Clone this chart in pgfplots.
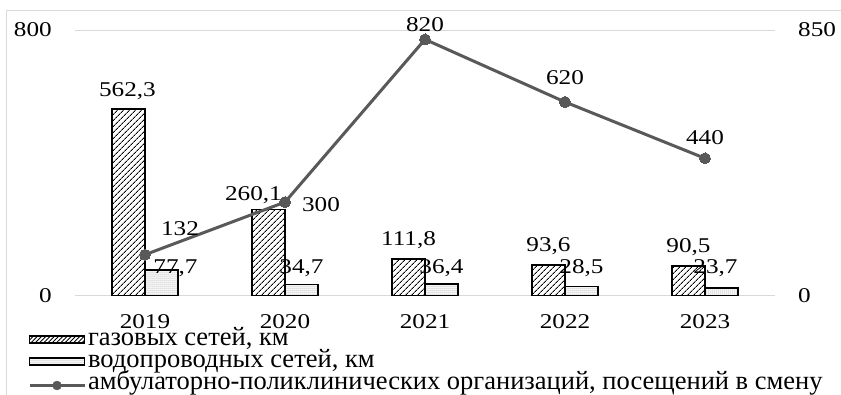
\documentclass[border=0pt]{standalone}
\usepackage{fontspec}
\setmainfont{Liberation Serif}[FakeStretch=1.2]
\newfontfamily\legfont{Liberation Serif}
\usepackage{pgfplots}
\pgfplotsset{compat=1.18}
\usepackage{pgfplotstable}
\usetikzlibrary{patterns.meta}
\definecolor{linegray}{HTML}{595959}
\definecolor{gridgray}{HTML}{D9D9D9}

\pgfplotstableread{
x gas water visits gdx gdy wy wdx vdx vdy
0 562.3 77.7 132 -1 18 84 14 35 26
1 260.1 34.7 300 -15 14 84 0 36 -3
2 111.8 36.4 820 0 19 84 0 0 15
3 93.6 28.5 620 0 19 84 0 0 24
4 90.5 23.7 440 0 19 84 -6 0 21
}\data

\pgfplotsset{/pgf/number format/assume math mode=true}

\begin{document}
\begin{tikzpicture}[font=\fontsize{21}{25}\selectfont]
\path[use as bounding box] (-75pt,-99pt) rectangle (766pt,296pt);
\draw[gridgray, line width=1pt] (-68.5pt,-99pt) -- (-68.5pt,285pt) -- (766pt,285pt);
\begin{axis}[
  scale only axis, width=700pt, height=266pt,
  xmin=-0.5, xmax=4.5, ymin=0, ymax=800,
  ybar, bar width=33pt,
  axis line style={draw=none}, tick style={draw=none},
  ytick={0,800}, ymajorgrids, grid style={gridgray, line width=1pt},
  xtick={0,1,2,3,4}, xticklabels={2019,2020,2021,2022,2023},
  xticklabel style={inner sep=0pt, yshift=-14pt},
  yticklabel style={inner sep=0pt, xshift=-23pt},
  legend style={at={(axis description cs:-0.0671,-0.1391)}, anchor=north west,
    draw=none, fill=none, inner sep=0pt, outer sep=0pt,
    font=\legfont\fontsize{26.5}{29}\selectfont,
    nodes={inner sep=0pt, text height=13pt, text depth=4pt},
    cells={anchor=west}, row sep=5pt, column sep=2pt},
]
% water bars
\addplot[forget plot, bar shift=16.5pt, draw=black, line width=1.5pt, fill=white,
  postaction={pattern={Dots[distance=2pt, radius=0.5pt]}, pattern color=gray}]
  table[x=x, y=water]{\data};
% water labels
\addplot[forget plot, bar shift=16.5pt, draw=none, fill=none,
  nodes near coords={\pgfmathprintnumber[fixed,fixed zerofill,precision=1,use comma]{\pgfplotspointmeta}},
  point meta=explicit,
  visualization depends on={\thisrow{wdx} \as \wdx},
  every node near coord/.append style={anchor=center, xshift=\wdx pt, text=black}]
  table[x=x, y=wy, meta=water]{\data};
% gas bars
\addplot[forget plot, bar shift=-16.5pt, draw=black, line width=1.5pt, fill=white,
  postaction={pattern={Lines[angle=45, distance=4pt, line width=1pt]}}]
  table[x=x, y=gas]{\data};
% gas labels
\addplot[forget plot, bar shift=-16.5pt, draw=none, fill=none,
  nodes near coords={\pgfmathprintnumber[fixed,fixed zerofill,precision=1,use comma]{\pgfplotspointmeta}},
  point meta=explicit,
  visualization depends on={\thisrow{gdx} \as \gdx},
  visualization depends on={\thisrow{gdy} \as \gdy},
  every node near coord/.append style={anchor=center, xshift=\gdx pt, yshift=\gdy pt, text=black}]
  table[x=x, y=gas, meta=gas]{\data};

\addlegendimage{legend image code/.code={\draw[black, line width=1.2pt, fill=white, postaction={pattern={Lines[angle=45, distance=3pt, line width=0.8pt]}}] (0pt,-1.5pt) rectangle (55pt,5.5pt);}}
\addlegendentry{газовых сетей, км}
\addlegendimage{legend image code/.code={\draw[black, line width=1.2pt, fill=white, postaction={pattern={Dots[distance=2pt, radius=0.5pt]}, pattern color=gray}] (0pt,-1.5pt) rectangle (55pt,5.5pt);}}
\addlegendentry{водопроводных сетей, км}
\addlegendimage{legend image code/.code={\draw[linegray, line width=3pt] (0pt,0pt) -- (55pt,0pt); \fill[linegray] (27.5pt,0pt) circle (4.5pt);}}
\addlegendentry{амбулаторно-поликлинических организаций, посещений в смену}
\end{axis}

\begin{axis}[
  scale only axis, width=700pt, height=266pt,
  xmin=-0.5, xmax=4.5, ymin=0, ymax=850,
  axis y line*=right, hide x axis,
  axis line style={draw=none}, tick style={draw=none},
  ytick={0,850},
  yticklabel style={inner sep=0pt, xshift=23pt},
]
\addplot[linegray, line width=3pt, mark=*, mark size=5.5pt,
  mark options={fill=linegray, draw=linegray, line width=0pt},
  nodes near coords, point meta=explicit,
  visualization depends on={\thisrow{vdx} \as \vdx},
  visualization depends on={\thisrow{vdy} \as \vdy},
  every node near coord/.append style={anchor=center, xshift=\vdx pt, yshift=\vdy pt, text=black}]
  table[x=x, y=visits, meta=visits]{\data};
\end{axis}
\end{tikzpicture}
\end{document}
